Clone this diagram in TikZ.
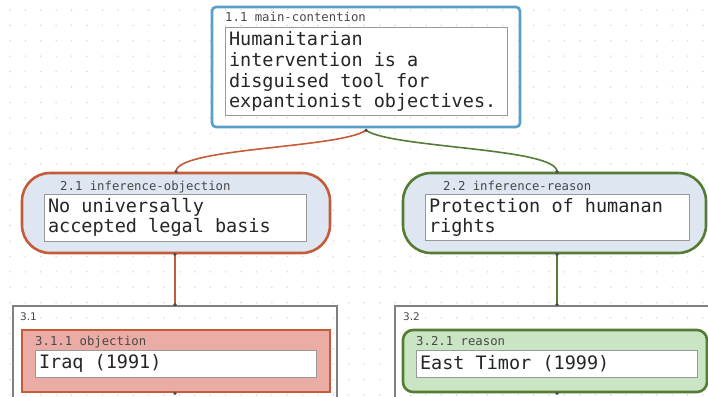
\documentclass[tikz,border=0pt]{standalone}
\usepackage{fontspec}
\usepackage{tikz}
\newfontfamily\boxmono{DejaVu Sans Mono}
\newfontfamily\boxsans{DejaVu Sans}
% mono text, ~ gives a real (glyph) space
\newcommand\monoat[2]{\boxmono\fontsize{#1}{#2}\selectfont\def~{\char"00A0\relax}}
\definecolor{mcblue}{RGB}{88,160,200}
\definecolor{objred}{RGB}{196,92,58}
\definecolor{resgreen}{RGB}{84,124,52}
\definecolor{midfill}{RGB}{222,230,241}
\definecolor{objfill}{RGB}{236,172,166}
\definecolor{resfill}{RGB}{202,229,196}
\definecolor{grpgray}{RGB}{128,128,128}
\definecolor{lblgray}{RGB}{72,72,72}

\begin{document}
\begin{tikzpicture}[x=1pt,y=-1pt]
      \tikzset{
      outer/.style={draw, line width=2.6pt, inner sep=0pt},
      textbox/.style={draw=grpgray!80, line width=0.9pt, fill=white, inner sep=4pt,
        align=left, font=\monoat{18.5}{20.8}, text=black!85},
      lbl/.style={anchor=base west, inner sep=0pt, text=lblgray, font=\monoat{12.3}{14}},
      port/.style={fill=black!70, draw=none, circle, inner sep=0pt, minimum size=3.6pt},
      }
      \useasboundingbox (0,0) rectangle (708,396);

      %grid of dots
      \foreach \i in {0,...,45}{
        \foreach \j in {0,...,25}{
          \fill[black!14] (10+15.4*\i,10+15.4*\j) circle (0.9pt);
        }
      }

      %Level 1 - main contention
      \node[outer, draw=mcblue, rounded corners=4pt, minimum width=308pt, minimum height=120pt] (mc) at (366,67) {};
      \node[lbl] (mcl) at (225,22) {1.1~main-contention};
      \node[textbox, text width=274pt, minimum height=87pt] (mct) at (366,71.5)
        {Humanitarian\\intervention~is~a\\disguised~tool~for\\expantionist~objectives.};

      %Level 2 - inferences
      \node[outer, draw=objred, fill=midfill, rounded corners=28pt, minimum width=308pt, minimum height=80pt] (io) at (176,213) {};
      \node[lbl] (iol) at (60,190) {2.1~inference-objection};
      \node[textbox, text width=254pt, minimum height=45pt] (iot) at (175,217.5)
        {No~universally\\accepted~legal~basis};

      \node[outer, draw=resgreen, fill=midfill, rounded corners=28pt, minimum width=303pt, minimum height=80pt] (ir) at (554.5,213) {};
      \node[lbl] (irl) at (443,190) {2.2~inference-reason};
      \node[textbox, text width=256pt, minimum height=45pt] (irt) at (557,217.5)
        {Protection~of~humanan\\rights};

      %Level 3 - groups
      \node[outer, draw=grpgray, minimum width=324pt, minimum height=94pt] (g1) at (175,353) {};
      \node[anchor=base west, inner sep=0pt, text=lblgray, font=\boxsans\fontsize{10.5}{12}\selectfont] (g1l) at (20,320) {3.1};
      \node[outer, draw=objred, fill=objfill, minimum width=308pt, minimum height=62pt] (o1) at (176,361) {};
      \node[lbl] (o1l) at (35,345) {3.1.1~objection};
      \node[textbox, text width=273pt, minimum height=27pt, inner ysep=2pt] (o1t) at (175.5,363.5) {Iraq~(1991)};

      \node[outer, draw=grpgray, minimum width=317pt, minimum height=94pt] (g2) at (553.5,353) {};
      \node[anchor=base west, inner sep=0pt, text=lblgray, font=\boxsans\fontsize{10.5}{12}\selectfont] (g2l) at (403,320) {3.2};
      \node[outer, draw=resgreen, fill=resfill, rounded corners=10pt, minimum width=304pt, minimum height=62pt] (r1) at (555,361) {};
      \node[lbl] (r1l) at (416,345) {3.2.1~reason};
      \node[textbox, text width=273pt, minimum height=27pt, inner ysep=2pt] (r1t) at (556.5,363.5) {East~Timor~(1999)};

      %connectors
      \coordinate (mcp) at ([yshift=-2pt]mc.south);
      \draw[objred, line width=1.6pt] (mcp) .. controls +(-26,18) and +(0,-24) .. (io.north);
      \draw[resgreen, line width=1.6pt] (mcp) .. controls +(26,18) and +(0,-24) .. ([xshift=2.5pt]ir.north);
      \draw[objred, line width=1.6pt] ([xshift=-1pt]io.south) -- (g1.north);
      \draw[resgreen, line width=1.6pt] ([xshift=2.5pt]ir.south) -- ([xshift=3.5pt]g2.north);

      %ports
      \node[port] at (mcp) {};
      \node[port] at (io.north) {};
      \node[port] at ([xshift=-1pt]io.south) {};
      \node[port] at ([xshift=2.5pt]ir.north) {};
      \node[port] at ([xshift=2.5pt]ir.south) {};
      \node[port] at (g1.north) {};
      \node[port] at ([xshift=3.5pt]g2.north) {};
      \node[port] at ([xshift=-1pt]o1.south) {};
      \node[port] at ([xshift=2pt]r1.south) {};
\end{tikzpicture}
\end{document}
